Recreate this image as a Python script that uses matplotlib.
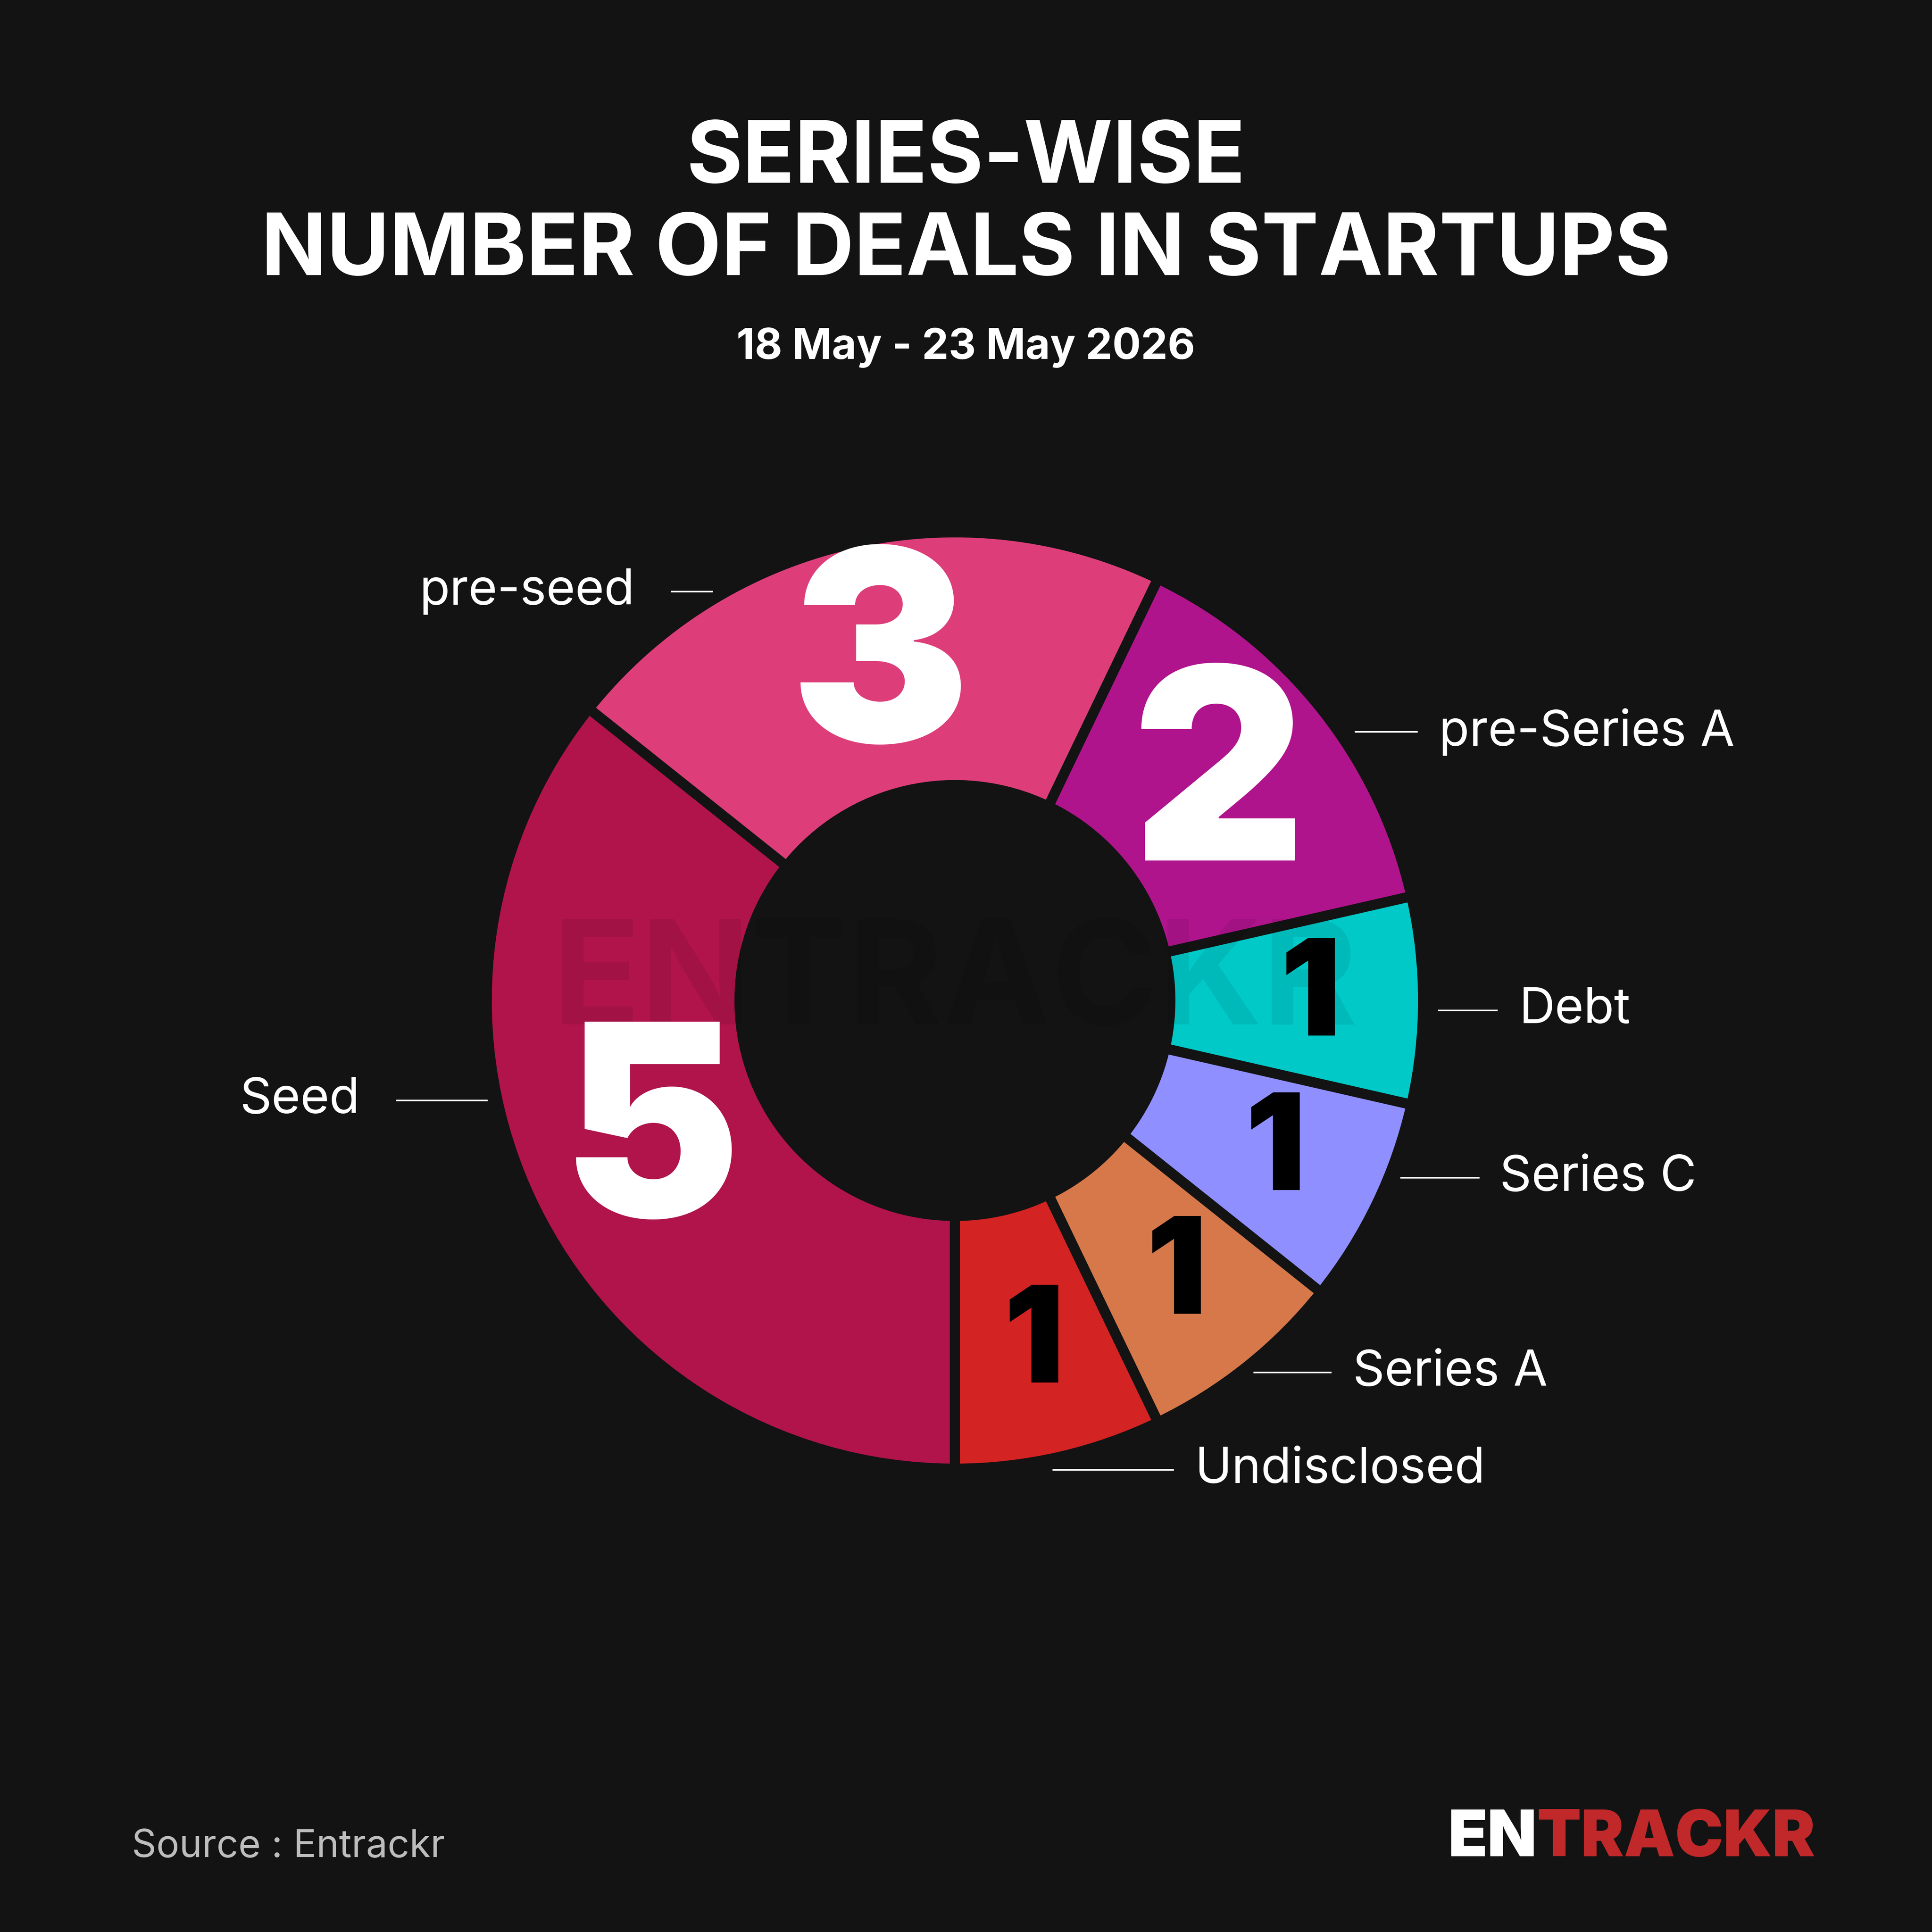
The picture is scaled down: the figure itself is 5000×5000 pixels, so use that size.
import numpy as np
import matplotlib.pyplot as plt

plt.rcParams['font.family'] = ['Inter', 'DejaVu Sans']

# data
stages = ["Seed", "pre-seed", "pre-Series A", "Debt", "Series C", "Series A", "Undisclosed"]
deals = [5, 3, 2, 1, 1, 1, 1]
colors = ["#B0144A", "#DD3E7A", "#B0148C", "#00C9C8", "#8F8FFF", "#D6784A", "#D42323"]
num_colors = ["white", "white", "white", "black", "black", "black", "black"]

BG = "#131313"
S = 1568.0  # reference pixel space

def fx(x):
    return x / S

def fy(y):
    return 1 - y / S

fig = plt.figure(figsize=(10, 10), dpi=500, facecolor=BG)

# donut axes: center (775,812), radius 380 in ref pixels
cx, cy, R = 775, 812, 380
ax = fig.add_axes([fx(cx - R), fy(cy + R), 2 * R / S, 2 * R / S])
ax.set_facecolor(BG)

wedges, _ = ax.pie(deals, colors=colors, startangle=-90, counterclock=False, radius=1,
                   wedgeprops=dict(width=0.54, edgecolor=BG, linewidth=3.8))
ax.set_xlim(-1, 1)
ax.set_ylim(-1, 1)
ax.set_aspect("equal")
ax.axis("off")

# faint watermark across the centre
ax.text(0, 0.03, "ENTRACKR", ha="center", va="center", fontsize=54, fontweight="bold",
        color="black", alpha=0.07, zorder=2)

for w, v, c in zip(wedges, deals, num_colors):
    ang = np.deg2rad((w.theta1 + w.theta2) / 2)
    r = 0.72 if v > 1 else 0.76
    ax.text(r * np.cos(ang), r * np.sin(ang), str(v), ha="center", va="center",
            fontsize=100 if v > 1 else 50, fontweight="black", color=c, zorder=3)

# outer labels with leader lines (layout in ref pixels)
label_layout = {
    "pre-seed": (545, 578, 480, "right", 515),
    "pre-Series A": (1100, 1150, 594, "left", 1168),
    "Debt": (1168, 1215, 820, "left", 1233),
    "Series C": (1137, 1200, 956, "left", 1217),
    "Series A": (1018, 1080, 1114, "left", 1098),
    "Undisclosed": (855, 952, 1193, "left", 970),
    "Seed": (322, 395, 893, "right", 292),
}
for name in stages:
    x0, x1, y, ha, tx = label_layout[name]
    fig.add_artist(plt.Line2D([fx(x0), fx(x1)], [fy(y), fy(y)], color="white", lw=0.6))
    fig.text(fx(tx), fy(y), name, ha=ha, va="center", fontsize=18.5, color="white")

# titles
fig.text(0.5, fy(130), "SERIES-WISE", ha="center", va="center", fontsize=32,
         fontweight="bold", color="white")
fig.text(0.5, fy(205), "NUMBER OF DEALS IN STARTUPS", ha="center", va="center",
         fontsize=32, fontweight="bold", color="white")
fig.text(0.5, fy(282), "18 May - 23 May 2026", ha="center", va="center", fontsize=15.8,
         fontweight="bold", color="white")

# footer
fig.text(fx(107), fy(1499), "Source : Entrackr", ha="left", va="center", fontsize=14.3,
         color="#bdbdbd")
t = fig.text(fx(1175), fy(1493), "EN", ha="left", va="center", fontsize=24,
             fontweight="black", color="white")
fig.canvas.draw()
bb = t.get_window_extent().transformed(fig.transFigure.inverted())
fig.text(bb.x1, fy(1493), "TRACKR", ha="left", va="center", fontsize=24,
         fontweight="black", color="#C0282A")

fig.savefig("out.png", dpi=500, facecolor=BG)
